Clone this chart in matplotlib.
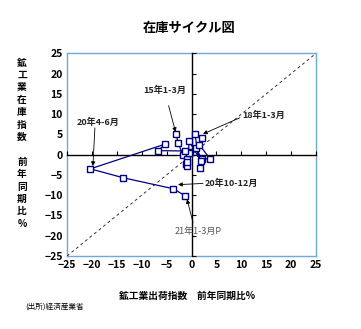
import matplotlib
matplotlib.use("Agg")
import matplotlib.pyplot as plt

plt.rcParams['font.family'] = ['Noto Sans CJK JP', 'DejaVu Sans']

# 四半期ごとの前年同期比（出荷, 在庫） 15年1-3月 ～ 21年1-3月P
quarters = ["15Q1", "15Q2", "15Q3", "15Q4", "16Q1", "16Q2", "16Q3", "16Q4",
            "17Q1", "17Q2", "17Q3", "17Q4", "18Q1", "18Q2", "18Q3", "18Q4",
            "19Q1", "19Q2", "19Q3", "19Q4", "20Q1", "20Q2", "20Q3", "20Q4", "21Q1"]
shipments = [-3.1, -2.7, -1.7, -1.0, -1.1, -1.0, -0.9, -0.4,
             0.9, 2.1, 3.7, 1.6, 2.1, 0.7, 1.7, 1.9,
             -0.5, -0.6, -1.3, -6.7, -5.3, -20.3, -13.7, -3.7, -1.3]
inventory = [5.2, 2.9, -0.1, -1.1, -2.4, -2.7, -1.8, 0.6,
             1.6, -1.1, -1.0, 2.4, 4.1, 5.1, -3.2, -1.6,
             3.4, 0.4, 0.9, 1.0, 2.6, -3.5, -5.7, -8.4, -10.1]

lim = [-25, 25]
ticks = [-25, -20, -15, -10, -5, 0, 5, 10, 15, 20, 25]

# 注記: (ラベル, 文字位置, 矢印の根元, 矢印の先, 太字)
notes = [
    ("15年1-3月", (-5.4, 15.8), (-4.6, 12.1), (-3.2, 5.6), True),
    ("18年1-3月", (14.4, 9.6), (9.7, 9.1), (2.3, 5.1), True),
    ("20年4-6月", (-18.7, 8.0), (-19.4, 6.6), (-19.8, -2.8), True),
    ("20年10-12月", (8.0, -7.0), (2.3, -7.1), (-2.7, -7.4), True),
    ("21年1-3月P", (1.3, -18.9), (0.3, -16.7), (-0.9, -11.0), False),
]

fig = plt.figure(figsize=(3.61, 3.29), dpi=100)
rect = [0.1856, 0.2219, 0.6898, 0.616]

# 枠と目盛ラベル
ax = fig.add_axes(rect)
ax.set_xlim(lim)
ax.set_ylim(lim)
ax.set_xticks(ticks)
ax.set_yticks(ticks)
ax.set_xticklabels([str(t).replace('-', '−') for t in ticks])
ax.set_yticklabels([str(t).replace('-', '−') for t in ticks])
ax.tick_params(length=0, labelsize=7.5, pad=3)
for s in ax.spines.values():
    s.set_color('#6fa8dc')
    s.set_linewidth(1.0)
for lab in ax.get_xticklabels() + ax.get_yticklabels():
    lab.set_fontweight('bold')

# 中央の軸
ax2 = fig.add_axes(rect, sharex=ax, sharey=ax)
ax2.patch.set_visible(False)
ax2.spines['left'].set_position(('data', 0))
ax2.spines['bottom'].set_position(('data', 0))
ax2.spines['top'].set_visible(False)
ax2.spines['right'].set_visible(False)
ax2.spines['left'].set_linewidth(1.0)
ax2.spines['bottom'].set_linewidth(1.0)
ax2.tick_params(direction='in', length=3, width=0.8, labelleft=False, labelbottom=False)

ax2.plot(lim, lim, color='#333333', lw=0.7, linestyle=(0, (3, 3)))
ax2.plot(shipments, inventory, color='#000080', lw=0.9, marker='s',
         markersize=4.2, markerfacecolor='white', markeredgecolor='#000080',
         markeredgewidth=1.0, zorder=3)

for label, txt, tail, tip, bold in notes:
    ax2.annotate("", xy=tip, xytext=tail,
                 arrowprops=dict(arrowstyle='-|>', color='black', lw=0.6,
                                 mutation_scale=6, shrinkA=0, shrinkB=0))
    ax2.text(txt[0], txt[1], label, ha='center', va='center', fontsize=6.5,
             fontweight='bold' if bold else 'normal',
             color='#222222' if bold else '#555555')

fig.text(0.525, 0.915, "在庫サイクル図", ha='center', va='center',
         fontsize=9.5, fontweight='bold')
ylab = "鉱工業在庫指数　前年同期比%"
fig.text(0.061, 0.565, "\n".join(ylab), ha='center', va='center',
         fontsize=7, fontweight='bold', linespacing=1.3)
fig.text(0.517, 0.1, "鉱工業出荷指数　前年同期比%", ha='center', va='center',
         fontsize=7, fontweight='bold')
fig.text(0.069, 0.067, "(出所)経済産業省", ha='left', va='center', fontsize=5.5)

fig.savefig("out.png", dpi=100)
